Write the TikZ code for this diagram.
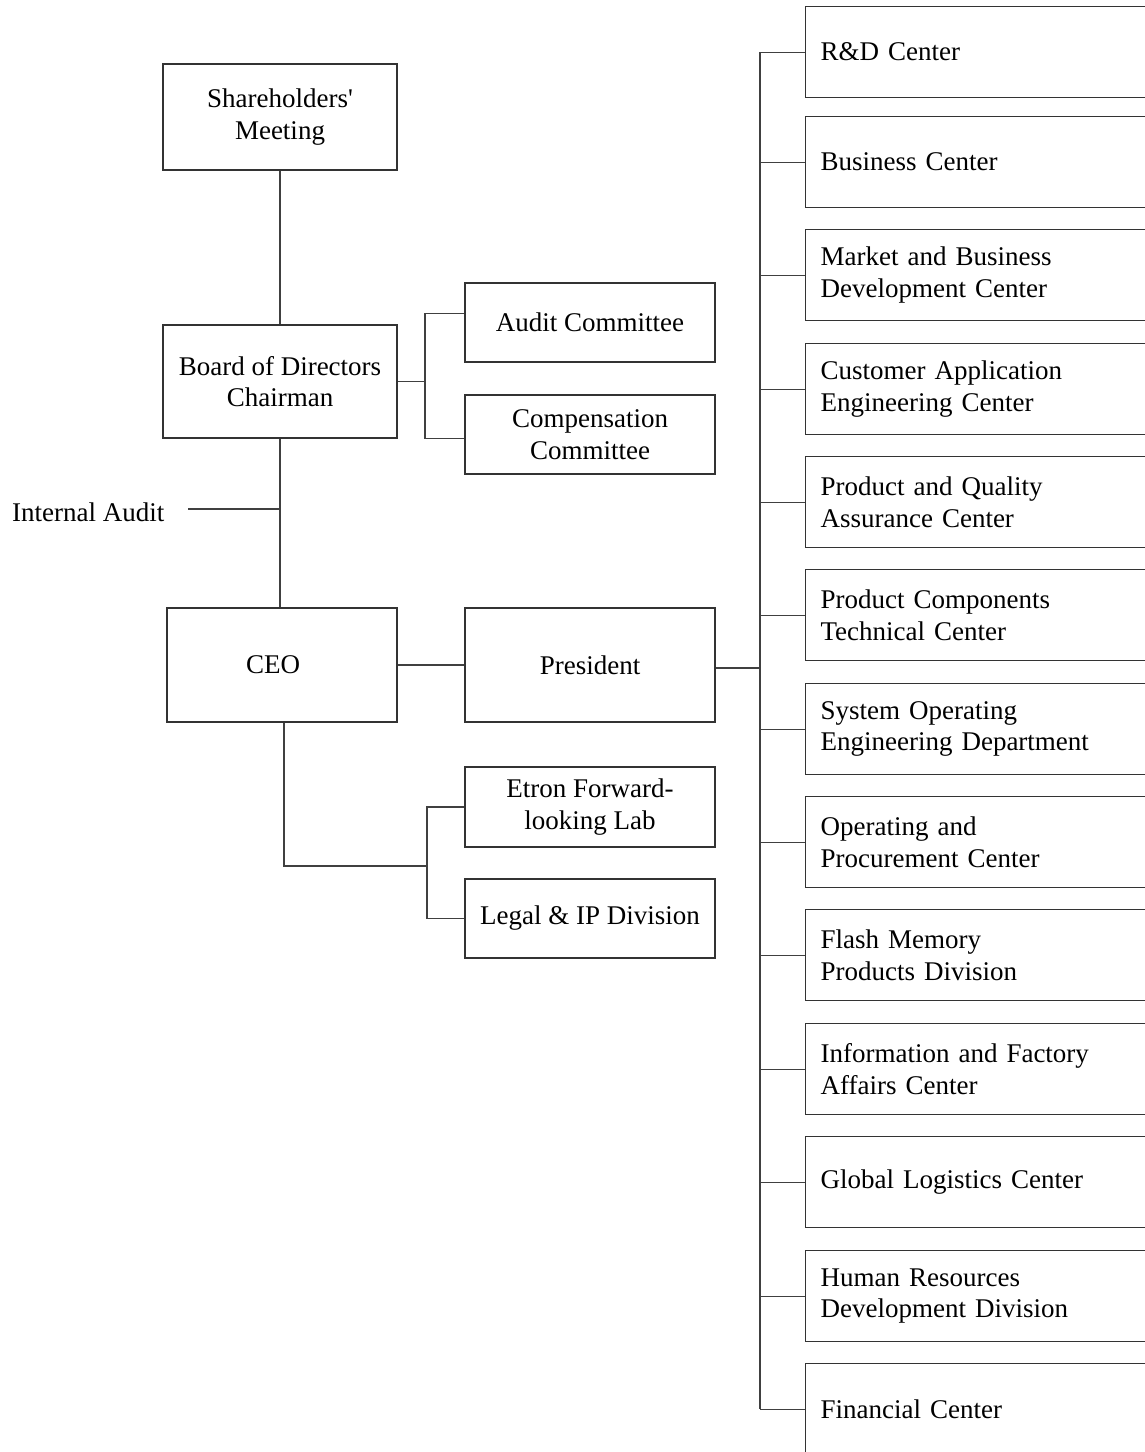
\documentclass[tikz,border=0pt]{standalone}
\usepackage{fontspec}
\setmainfont{Liberation Serif}
\begin{document}
\begin{tikzpicture}[x=1pt,y=-1pt,
  txt/.style={font=\fontsize{27}{31.5}\selectfont},
  box/.style={txt, draw=black!80, line width=1.1pt, rectangle, inner sep=0pt, align=center},
  rbox/.style={txt, draw=black!80, line width=1.1pt, rectangle, anchor=north west,
    minimum height=91pt, text width=345pt, align=left, inner xsep=15pt, inner ysep=0pt},
  link/.style={draw=black!75, line width=1.1pt}]
\clip (0,0) rectangle (1145,1452);
\fill[white] (0,0) rectangle (1145,1452);

% left column
\node[box, minimum width=234pt, minimum height=106pt] (sh) at (280,117) {Shareholders\textquotesingle\\Meeting};
\node[box, minimum width=234pt, minimum height=113pt] (bd) at (280,381.5) {Board of Directors\\Chairman};
\node[box, minimum width=250pt, minimum height=79pt] (ac) at (590,322.5) {Audit Committee};
\node[box, minimum width=250pt, minimum height=79pt] (cc) at (590,434.5) {Compensation\\Committee};
\node[txt, anchor=base west, inner sep=0pt] (ia) at (12,521) {Internal Audit};
\node[box, minimum width=230pt, minimum height=114pt] (ceo) at (282,665) {\hspace*{-18pt}CEO};
\node[box, minimum width=250pt, minimum height=114pt] (pr) at (590,665) {President};
\node[box, minimum width=250pt, minimum height=80pt] (el) at (590,807) {Etron Forward-\\looking Lab};
\node[box, minimum width=250pt, minimum height=79pt] (lg) at (590,918.5) {Legal \& IP Division};

% right column
\node[rbox] (r1) at (805,6) {R\&D Center};
\node[rbox] (r2) at (805,116) {Business Center};
\node[rbox] (r3) at (805,229) {Market and Business\\Development Center};
\node[rbox] (r4) at (805,343) {Customer Application\\Engineering Center};
\node[rbox] (r5) at (805,456) {Product and Quality\\Assurance Center};
\node[rbox] (r6) at (805,569) {Product Components\\Technical Center};
\node[rbox] (r7) at (805,683) {System Operating\\Engineering Department};
\node[rbox] (r8) at (805,796) {Operating and\\Procurement Center};
\node[rbox] (r9) at (805,909) {Flash Memory\\Products Division};
\node[rbox] (r10) at (805,1023) {Information and Factory\\Affairs Center};
\node[rbox] (r11) at (805,1136) {Global Logistics Center};
\node[rbox] (r12) at (805,1250) {Human Resources\\Development Division};
\node[rbox] (r13) at (805,1363) {Financial Center};

% connector helpers
\coordinate (cbr) at (425,0);
\coordinate (lbr) at (427,0);
\coordinate (ceox) at (284,0);
\coordinate (trunk) at (760,0);
\coordinate (iaj) at (280,509);
\coordinate (iastart) at (188,509);
\coordinate (acin) at ([yshift=9pt]ac.west);
\coordinate (ccin) at ([yshift=-4pt]cc.west);
\coordinate (prout) at ([yshift=-3pt]pr.east);

% connectors
\draw[link] (sh.south) -- (bd.north);
\draw[link] (bd.south) -- (bd.south |- ceo.north);
\draw[link] (iastart) -- (iaj);
\draw[link] (bd.east) -- (bd.east -| cbr);
\draw[link] (acin) -| (cbr |- ccin) -- (ccin);
\draw[link] (ceo.east) -- (pr.west);
\draw[link] (ceox |- ceo.south) -- (ceox |- 0,866) -- (lbr |- 0,866);
\draw[link] (el.west) -| (lbr |- lg.west) -- (lg.west);
\draw[link] (prout) -- (prout -| trunk);
\draw[link] (trunk |- r1.west) -- (trunk |- r13.west);
\foreach \i in {1,...,13} {
  \draw[link] (trunk |- r\i.west) -- (r\i.west);
}
\end{tikzpicture}
\end{document}
